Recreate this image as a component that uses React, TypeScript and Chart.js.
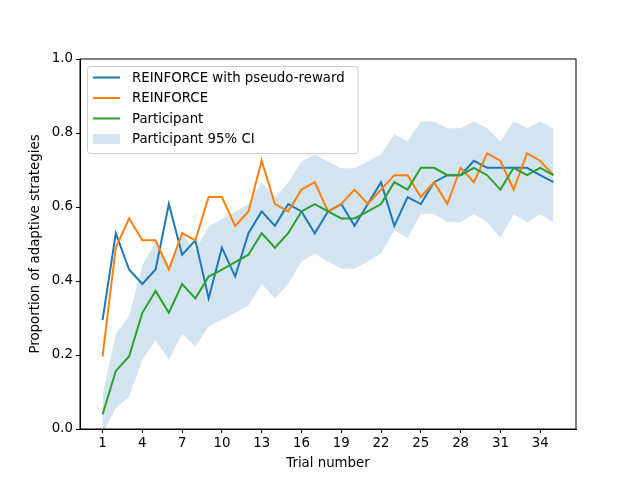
import { useEffect, useRef } from "react";
import { Chart, registerables, type ChartConfiguration, type Plugin } from "chart.js";

Chart.register(...registerables);

// trial numbers and tick positions
const TRIALS = Array.from({ length: 35 }, (_, i) => i + 1);
const X_TICKS = [1, 4, 7, 10, 13, 16, 19, 22, 25, 28, 31, 34];

const PSEUDO = [
  0.294, 0.529, 0.431, 0.392, 0.431, 0.608, 0.471, 0.51, 0.353, 0.49,
  0.412, 0.529, 0.588, 0.549, 0.608, 0.588, 0.529, 0.588, 0.608, 0.549,
  0.608, 0.667, 0.549, 0.627, 0.608, 0.667, 0.686, 0.686, 0.725, 0.706,
  0.706, 0.706, 0.706, 0.686, 0.667,
];

const REINFORCE = [
  0.196, 0.49, 0.569, 0.51, 0.51, 0.431, 0.529, 0.51, 0.627, 0.627,
  0.549, 0.588, 0.725, 0.608, 0.588, 0.647, 0.667, 0.588, 0.608, 0.647,
  0.608, 0.647, 0.686, 0.686, 0.627, 0.667, 0.608, 0.706, 0.667, 0.745,
  0.725, 0.647, 0.745, 0.725, 0.686,
];

const PARTICIPANT = [
  0.039, 0.157, 0.196, 0.314, 0.373, 0.314, 0.392, 0.353, 0.412, 0.431,
  0.451, 0.471, 0.529, 0.49, 0.529, 0.588, 0.608, 0.588, 0.569, 0.569,
  0.588, 0.608, 0.667, 0.647, 0.706, 0.706, 0.686, 0.686, 0.706, 0.686,
  0.647, 0.706, 0.686, 0.706, 0.686,
];

const CI_UPPER = [
  0.092, 0.257, 0.305, 0.441, 0.506, 0.441, 0.526, 0.484, 0.547, 0.567,
  0.587, 0.608, 0.666, 0.627, 0.666, 0.723, 0.742, 0.723, 0.705, 0.705,
  0.723, 0.742, 0.796, 0.778, 0.831, 0.831, 0.813, 0.813, 0.831, 0.813,
  0.778, 0.831, 0.813, 0.831, 0.813,
];

const CI_LOWER = [
  -0.014, 0.057, 0.087, 0.187, 0.24, 0.187, 0.258, 0.222, 0.277, 0.295,
  0.314, 0.334, 0.392, 0.353, 0.392, 0.453, 0.474, 0.453, 0.433, 0.433,
  0.453, 0.474, 0.537, 0.516, 0.581, 0.581, 0.559, 0.559, 0.581, 0.559,
  0.516, 0.581, 0.559, 0.581, 0.559,
];

const FONT = "DejaVu Sans";
const FS = 13.33;
const BAND = "rgba(31,119,180,0.2)";

const pts = (ys: number[]) => TRIALS.map((x, i) => ({ x, y: ys[i] }));

// matplotlib-like frame and legend box
const framePlugin: Plugin<"line"> = {
  id: "frame",
  afterDatasetsDraw(chart) {
    const { ctx, chartArea: a } = chart;
    ctx.save();
    ctx.strokeStyle = "#000";
    ctx.lineWidth = 1;
    ctx.strokeRect(a.left, a.top, a.right - a.left, a.bottom - a.top);
    ctx.restore();
  },
  afterDraw(chart) {
    const { ctx, chartArea: a } = chart;
    const items = chart.data.datasets.filter((d) => d.label);
    ctx.save();
    ctx.font = `${FS}px "${FONT}"`;
    const maxW = Math.max(...items.map((d) => ctx.measureText(d.label as string).width));
    const x0 = a.left + 7;
    const y0 = a.top + 7;
    const w = 45 + maxW + 13;
    const rowH = 20.5;
    const h = 11 + rowH * items.length - 6;
    ctx.beginPath();
    ctx.roundRect(x0 + 0.5, y0 + 0.5, w, h, 3);
    ctx.fillStyle = "rgba(255,255,255,0.8)";
    ctx.fill();
    ctx.strokeStyle = "#cccccc";
    ctx.lineWidth = 1;
    ctx.stroke();
    items.forEach((d, i) => {
      const cy = y0 + 11.5 + i * rowH;
      if (d.fill) {
        ctx.fillStyle = d.backgroundColor as string;
        ctx.fillRect(x0 + 6, cy - 5, 27, 10);
      } else {
        ctx.strokeStyle = d.borderColor as string;
        ctx.lineWidth = 2;
        ctx.beginPath();
        ctx.moveTo(x0 + 6, cy);
        ctx.lineTo(x0 + 33, cy);
        ctx.stroke();
      }
      ctx.fillStyle = "#000";
      ctx.textBaseline = "middle";
      ctx.fillText(d.label as string, x0 + 45, cy + 1);
    });
    ctx.restore();
  },
};

export default function App() {
  const canvasRef = useRef<HTMLCanvasElement>(null);

  useEffect(() => {
    document.body.style.margin = "0";
    if (!canvasRef.current) return;
    Chart.defaults.font.family = FONT;
    Chart.defaults.font.size = FS;
    Chart.defaults.color = "#000";

    const line = (label: string, data: number[], color: string, order: number) => ({
      label,
      data: pts(data),
      borderColor: color,
      backgroundColor: color,
      borderWidth: 2,
      pointRadius: 0,
      fill: false,
      tension: 0,
      order,
    });

    const config: ChartConfiguration<"line"> = {
      type: "line",
      data: {
        datasets: [
          line("REINFORCE with pseudo-reward", PSEUDO, "#1f77b4", 3),
          line("REINFORCE", REINFORCE, "#ff7f0e", 2),
          line("Participant", PARTICIPANT, "#2ca02c", 1),
          {
            label: "",
            data: pts(CI_LOWER),
            borderWidth: 0,
            pointRadius: 0,
            fill: false,
            order: 10,
          },
          {
            label: "Participant 95% CI",
            data: pts(CI_UPPER),
            borderWidth: 0,
            borderColor: "rgba(0,0,0,0)",
            backgroundColor: BAND,
            pointRadius: 0,
            fill: "-1",
            order: 9,
          },
        ],
      },
      options: {
        responsive: false,
        animation: false,
        layout: { padding: { top: 59, right: 64, left: 0, bottom: 0 } },
        plugins: { legend: { display: false }, tooltip: { enabled: false } },
        scales: {
          x: {
            type: "linear",
            min: -0.7,
            max: 36.7,
            afterBuildTicks: (s) => {
              s.ticks = X_TICKS.map((v) => ({ value: v }));
            },
            afterFit: (s) => {
              s.height = 51;
            },
            grid: { display: true, drawOnChartArea: false, tickLength: 4, color: "#000" },
            border: { display: true, color: "#000", width: 1 },
            ticks: { padding: 3, autoSkip: false, maxRotation: 0 },
            title: { display: true, text: "Trial number", padding: { top: 0, bottom: 8 } },
          },
          y: {
            min: 0,
            max: 1,
            afterFit: (s) => {
              s.width = 80;
            },
            grid: { display: true, drawOnChartArea: false, tickLength: 4, color: "#000" },
            border: { display: true, color: "#000", width: 1 },
            ticks: { stepSize: 0.2, padding: 3, callback: (v) => Number(v).toFixed(1) },
            title: {
              display: true,
              text: "Proportion of adaptive strategies",
              padding: { top: 28, bottom: 0 },
            },
          },
        },
      },
      plugins: [framePlugin],
    };

    const chart = new Chart(canvasRef.current, config);
    return () => chart.destroy();
  }, []);

  return (
    <div style={{ width: 640, height: 480, background: "#fff" }}>
      <canvas ref={canvasRef} width={640} height={480} />
    </div>
  );
}
